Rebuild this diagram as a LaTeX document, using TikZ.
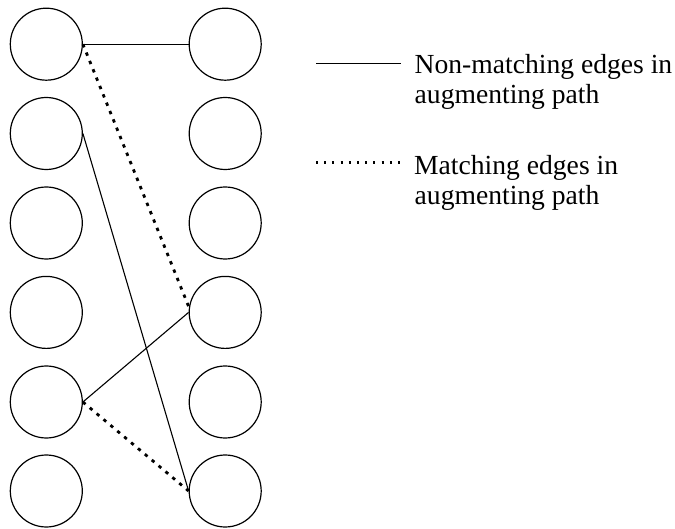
\documentclass[tikz,border=0pt]{standalone}
\usepackage{fontspec}
\setmainfont{Liberation Serif}
\usetikzlibrary{calc}

\begin{document}
\begin{tikzpicture}[x=1pt,y=-1pt,
  vertex/.style={circle,draw,line width=1.2pt,minimum size=72pt,inner sep=0pt},
  plainedge/.style={line width=1.1pt},
  matchedge/.style={line width=2.8pt,dash pattern=on 3.4pt off 5.6pt},
  legsolid/.style={line width=1.1pt},
  legdotted/.style={line width=3.2pt,dash pattern=on 2pt off 6.2pt},
  legtext/.style={anchor=base west,inner sep=0pt,font=\fontsize{27.6}{30}\selectfont}]
  \useasboundingbox (0,0) rectangle (675,529);

  % left and right vertex columns
  \foreach \i/\y in {1/44.2,2/133.5,3/223,4/312.4,5/402,6/491}{
    \node[vertex] (l\i) at (46.3,\y) {};
    \node[vertex] (r\i) at (225.2,\y) {};
  }

  % augmenting path
  \draw[plainedge] (l1.east) -- (r1.west);
  \draw[matchedge] (l1.east) -- ($(r4.west)+(0,-6)$);
  \draw[plainedge] (l5.east) -- (r4.west);
  \draw[matchedge] (l5.east) -- (r6.west);
  \draw[plainedge] (l2.east) -- (r6.west);

  % legend
  \coordinate (sa) at (316,63.3);
  \coordinate (sb) at (401,63.3);
  \coordinate (da) at (316,162.5);
  \coordinate (db) at (400,162.5);
  \draw[legsolid] (sa) -- (sb);
  \draw[legdotted] (da) -- (db);
  \node[legtext] (t1) at (414.5,73.3) {Non-matching edges in};
  \node[legtext] (t2) at (414.5,103.3) {augmenting path};
  \node[legtext] (t3) at (414,174.3) {Matching edges in};
  \node[legtext] (t4) at (414.5,204.3) {augmenting path};
\end{tikzpicture}
\end{document}
